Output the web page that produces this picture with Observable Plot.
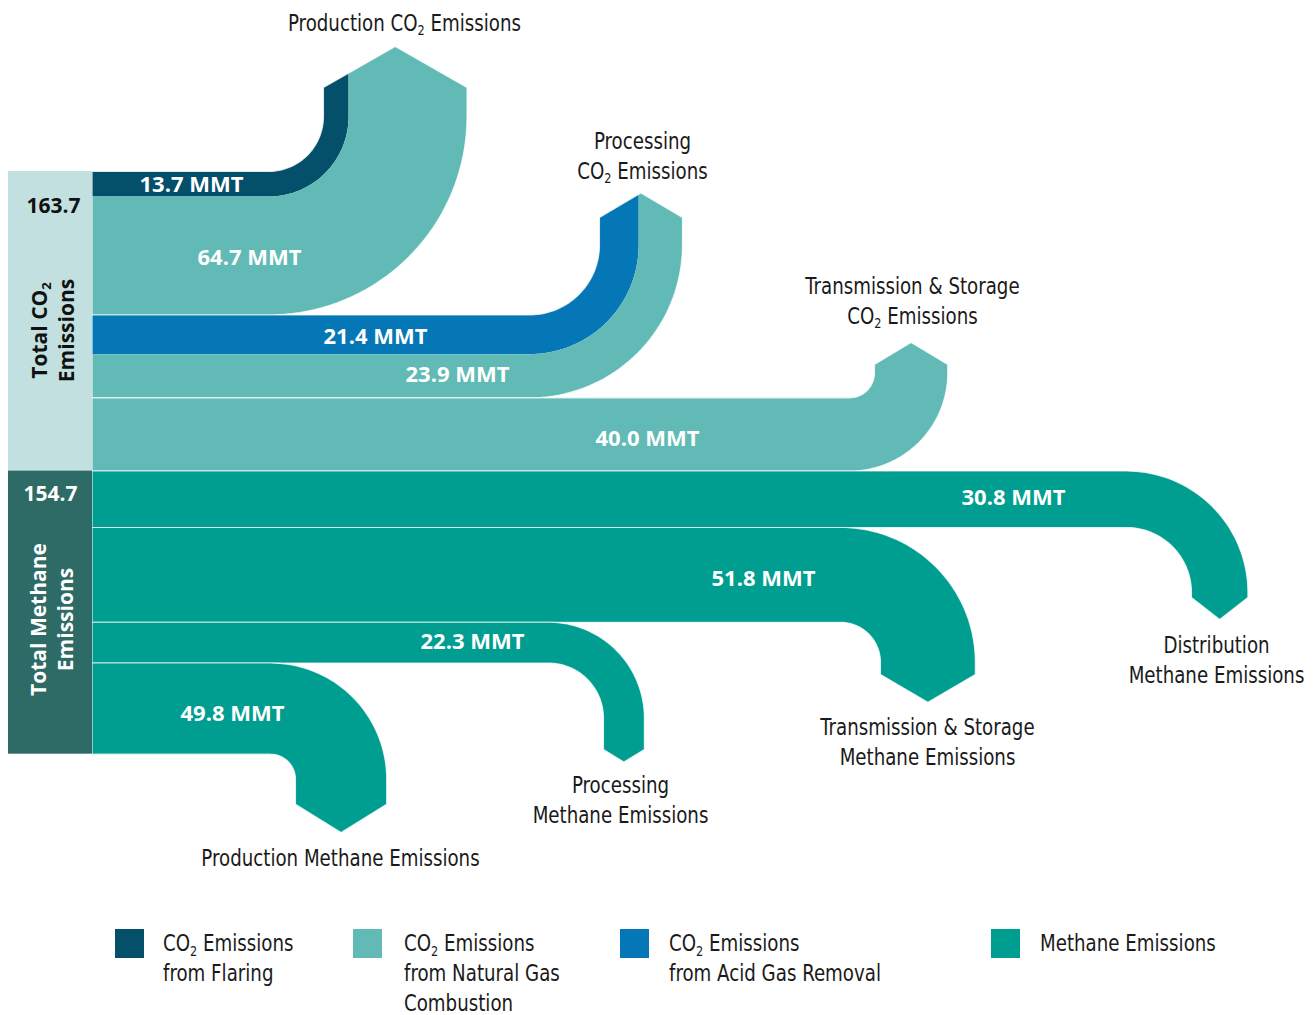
<!DOCTYPE html>
<html>
<head>
<meta charset="utf-8">
<script src="https://cdn.jsdelivr.net/npm/d3@7"></script>
<script src="https://cdn.jsdelivr.net/npm/@observablehq/plot@0.6"></script>
<style>
  body { margin: 0; background: #fff; }
  #wrap { position: relative; width: 1314px; height: 1015px; overflow: hidden; }
  #wrap svg { position: absolute; left: 0; top: 0; overflow: visible; }
  .sw { position: absolute; width: 29px; height: 29px; }
  .lt { position: absolute; font-family: "Liberation Sans Narrow", "DejaVu Sans Condensed", "Open Sans", sans-serif;
        font-size: 23px; line-height: 30px; color: #1a1a1a; white-space: nowrap;
        transform: scaleX(0.88); transform-origin: 0 0; }
  .lt sub { font-size: 0.62em; vertical-align: -0.32em; line-height: 0; }
</style>
</head>
<body>
<div id="wrap"></div>
<script>
// ---------------- DATA ----------------
const co2Stages = ["Production", "Processing", "Transmission & Storage"];
const co2Flaring = [13.7, 0, 0];
const co2AcidGas = [0, 21.4, 0];
const co2Combustion = [64.7, 23.9, 40.0];
const methaneStages = ["Distribution", "Transmission & Storage", "Processing", "Production"];
const methaneValues = [30.8, 51.8, 22.3, 49.8];
const totalValues = [163.7, 154.7];
const totalNames = ["Total CO₂\nEmissions", "Total Methane\nEmissions"];
const destinationLabels = [
  "Production CO₂ Emissions",
  "Processing\nCO₂ Emissions",
  "Transmission & Storage\nCO₂ Emissions",
  "Distribution\nMethane Emissions",
  "Transmission & Storage\nMethane Emissions",
  "Processing\nMethane Emissions",
  "Production Methane Emissions"
];
const legendLabels = [
  "CO₂ Emissions\nfrom Flaring",
  "CO₂ Emissions\nfrom Natural Gas\nCombustion",
  "CO₂ Emissions\nfrom Acid Gas Removal",
  "Methane Emissions"
];
const unit = "MMT";

// ---------------- STYLE ----------------
const colors = {
  flaring: "#044f6a", combustion: "#62bab6", acid: "#0677b6", methane: "#009e90",
  co2Box: "#c2e0df", ch4Box: "#2e6a66"
};
const legendColors = [colors.flaring, colors.combustion, colors.acid, colors.methane];
const FONT_C = '"Liberation Sans Narrow", "DejaVu Sans Condensed", "Open Sans", sans-serif';
const FONT_B = '"Open Sans", "Noto Sans", sans-serif';
const CONDENSE = 0.88;

// ---------------- LAYOUT ----------------
const W = 1314, H = 915, TOP = 171, K = 1.83, X0 = 92, BOX_X = 8, N = 40;
const flowLayout = [
  {dir: "up",   turnX: 268,  r: 55, leg: 29,   head: 41,   valueX: [191, 249], valueDy: [1, 2], lx: 404,  ly: 21},
  {dir: "up",   turnX: 529,  r: 70, leg: 27.5, head: 24.5, valueX: [375, 457], valueDy: [2, -1], lx: 642,  ly: 154},
  {dir: "up",   turnX: 849,  r: 25, leg: 8.4,  head: 22,   valueX: [647],      valueDy: [4], lx: 912,  ly: 299},
  {dir: "down", turnX: 1126, r: 65, leg: 5,    head: 22,   valueX: [1013],     valueDy: [-1], lx: 1216, ly: 658},
  {dir: "down", turnX: 840,  r: 40, leg: 12.3, head: 27.7, valueX: [763],      valueDy: [4], lx: 927,  ly: 740},
  {dir: "down", turnX: 548,  r: 55, leg: 31.5, head: 12.4, valueX: [472],      valueDy: [-1], lx: 620,  ly: 798},
  {dir: "down", turnX: 270,  r: 25, leg: 25,   head: 28.3, valueX: [232],      valueDy: [5], lx: 340,  ly: 856}
];
const totalLayout = [
  {valX: 53, valY: 206, valFill: "#111", nameX: 51, nameY: 330, nameFill: "#111", fill: colors.co2Box},
  {valX: 50, valY: 494, valFill: "#fff", nameX: 50, nameY: 619, nameFill: "#fff", fill: colors.ch4Box}
];
const legendLayout = [
  {sx: 115, tx: 163}, {sx: 353, tx: 404}, {sx: 620, tx: 669}, {sx: 991, tx: 1040}
];
const LEG_Y = 929;

// ---------------- BUILD FLOWS FROM DATA ----------------
let cum = 0;
const flows = [];
co2Stages.forEach((s, i) => {
  const parts = [
    {v: co2Flaring[i], c: colors.flaring},
    {v: co2AcidGas[i], c: colors.acid},
    {v: co2Combustion[i], c: colors.combustion}
  ].filter(p => p.v > 0);
  const c0 = cum;
  parts.forEach(p => { p.s0 = cum; cum += p.v; p.s1 = cum; });
  flows.push({name: s, c0, c1: cum, parts});
});
const co2End = cum;
methaneStages.forEach((s, i) => {
  const c0 = cum;
  const p = {v: methaneValues[i], c: colors.methane, s0: cum};
  cum += methaneValues[i]; p.s1 = cum;
  flows.push({name: s, c0, c1: cum, parts: [p]});
});

const yPx = v => TOP + K * v;          // value -> pixel offset (geometry of bends only)
const toV = py => (py - TOP) / K;      // pixel offset -> value units for the y scale

function edgePts(L, f, v) {
  const pts = [[X0, yPx(v)]];
  if (L.dir === "up") {
    const cy = yPx(f.c0) - L.r, R = L.r + (v - f.c0) * K;
    for (let i = 0; i <= N; i++) { const a = i / N * Math.PI / 2; pts.push([L.turnX + R * Math.sin(a), cy + R * Math.cos(a)]); }
  } else {
    const cy = yPx(f.c1) + L.r, R = L.r + (f.c1 - v) * K;
    for (let i = 0; i <= N; i++) { const a = i / N * Math.PI / 2; pts.push([L.turnX + R * Math.sin(a), cy - R * Math.cos(a)]); }
  }
  return pts;
}
function headPts(L, f, s0, s1) {
  let cy, yb, xa, xb, sign;
  const xin = L.turnX + L.r, xout = L.turnX + L.r + (f.c1 - f.c0) * K;
  if (L.dir === "up") {
    cy = yPx(f.c0) - L.r; yb = cy - L.leg; sign = -1;
    xa = L.turnX + L.r + (s0 - f.c0) * K; xb = L.turnX + L.r + (s1 - f.c0) * K;
  } else {
    cy = yPx(f.c1) + L.r; yb = cy + L.leg; sign = 1;
    xa = L.turnX + L.r + (f.c1 - s0) * K; xb = L.turnX + L.r + (f.c1 - s1) * K;
  }
  const xm = (xin + xout) / 2, half = (xout - xin) / 2;
  const h = x => L.head * (1 - Math.abs(x - xm) / half);
  const pts = [[xa, cy], [xa, yb + sign * h(xa)]];
  if (Math.min(xa, xb) < xm - 0.01 && xm + 0.01 < Math.max(xa, xb)) pts.push([xm, yb + sign * L.head]);
  pts.push([xb, yb + sign * h(xb)], [xb, cy]);
  return pts;
}
function shape(L, f, s0, s1) {
  const pts = [...edgePts(L, f, s0), ...headPts(L, f, s0, s1), ...edgePts(L, f, s1).reverse()];
  return pts.map(([x, y]) => ({x, y: toV(y)}));
}

const marks = [];
const boxes = [
  {y1: 0, y2: co2End, fill: totalLayout[0].fill},
  {y1: co2End, y2: cum, fill: totalLayout[1].fill}
];
marks.push(Plot.rect(boxes, {x1: () => BOX_X, x2: () => X0, y1: "y1", y2: "y2", fill: d => d.fill}));

const valueLabels = [];
const destLabels = [];
flows.forEach((f, i) => {
  const L = flowLayout[i];
  f.parts.forEach((p, j) => {
    marks.push(Plot.line(shape(L, f, p.s0, p.s1), {x: "x", y: "y", fill: p.c, stroke: "none", curve: "linear"}));
    valueLabels.push({x: L.valueX[j], y: (p.s0 + p.s1) / 2 + L.valueDy[j] / K, text: p.v.toFixed(1) + " " + unit});
  });
  marks.push(Plot.line(shape(L, f, f.c0, f.c1), {x: "x", y: "y", stroke: "#fff", strokeWidth: 1.1, strokeOpacity: 0.75, curve: "linear"}));
  destLabels.push({x: L.lx, y: toV(L.ly), text: destinationLabels[i]});
});

marks.push(Plot.text(valueLabels, {x: "x", y: "y", text: "text", fill: "#fff", fontSize: 22, fontWeight: "bold", fontFamily: FONT_B, textAnchor: "middle"}));
marks.push(Plot.text(destLabels, {x: "x", y: "y", text: "text", fill: "#1a1a1a", fontSize: 23, fontFamily: FONT_C, lineHeight: 1.3, textAnchor: "middle"}));

const totalVals = totalValues.map((v, i) => ({x: totalLayout[i].valX, y: toV(totalLayout[i].valY), text: v.toFixed(1), fill: totalLayout[i].valFill}));
marks.push(Plot.text(totalVals, {x: "x", y: "y", text: "text", fill: d => d.fill, fontSize: 21, fontWeight: "bold", fontFamily: FONT_B, textAnchor: "middle"}));
const totalNm = totalNames.map((t, i) => ({x: totalLayout[i].nameX, y: toV(totalLayout[i].nameY), text: t, fill: totalLayout[i].nameFill}));
marks.push(Plot.text(totalNm, {x: "x", y: "y", text: "text", fill: d => d.fill, rotate: -90, fontSize: 21, fontWeight: "bold", fontFamily: FONT_B, lineHeight: 1.3, textAnchor: "middle"}));

const chart = Plot.plot({
  width: W, height: H, margin: 0,
  x: {domain: [0, W], range: [0, W], axis: null},
  y: {domain: [toV(0), toV(H)], range: [0, H], axis: null},
  color: {type: "identity"},
  marks
});

// subscript "₂" via baseline-shift (does not move following text)
const NS = "http://www.w3.org/2000/svg";
function subscripts(root) {
  const nodes = [...root.querySelectorAll("text, tspan")];
  nodes.forEach(node => {
    [...node.childNodes].forEach(child => {
      if (child.nodeType === 3 && child.nodeValue.includes("₂")) {
        const parts = child.nodeValue.split("₂");
        const frag = document.createDocumentFragment();
        parts.forEach((p, k) => {
          if (k > 0) {
            const s = document.createElementNS(NS, "tspan");
            s.setAttribute("font-size", "62%");
            s.setAttribute("baseline-shift", "-30%");
            s.textContent = "2";
            frag.appendChild(s);
          }
          if (p.length) frag.appendChild(document.createTextNode(p));
        });
        node.replaceChild(frag, child);
      }
    });
  });
}
subscripts(chart);

// condense the destination labels horizontally (no condensed face installed)
const textGroups = chart.querySelectorAll('g[aria-label="text"]');
if (textGroups[1]) {
  textGroups[1].querySelectorAll("text").forEach(t => {
    const tr = t.getAttribute("transform") || "";
    t.setAttribute("transform", tr + ` scale(${CONDENSE},1)`);
  });
}

const wrap = document.getElementById("wrap");
wrap.appendChild(chart);

// legend (HTML)
legendLabels.forEach((t, i) => {
  const sq = document.createElement("div");
  sq.className = "sw";
  sq.style.left = legendLayout[i].sx + "px"; sq.style.top = LEG_Y + "px"; sq.style.background = legendColors[i];
  wrap.appendChild(sq);
  const tx = document.createElement("div");
  tx.className = "lt";
  tx.style.left = legendLayout[i].tx + "px"; tx.style.top = (LEG_Y - 1) + "px";
  tx.innerHTML = t.split("\n").map(l => l.replace("₂", "<sub>2</sub>")).join("<br>");
  wrap.appendChild(tx);
});
</script>
</body>
</html>
